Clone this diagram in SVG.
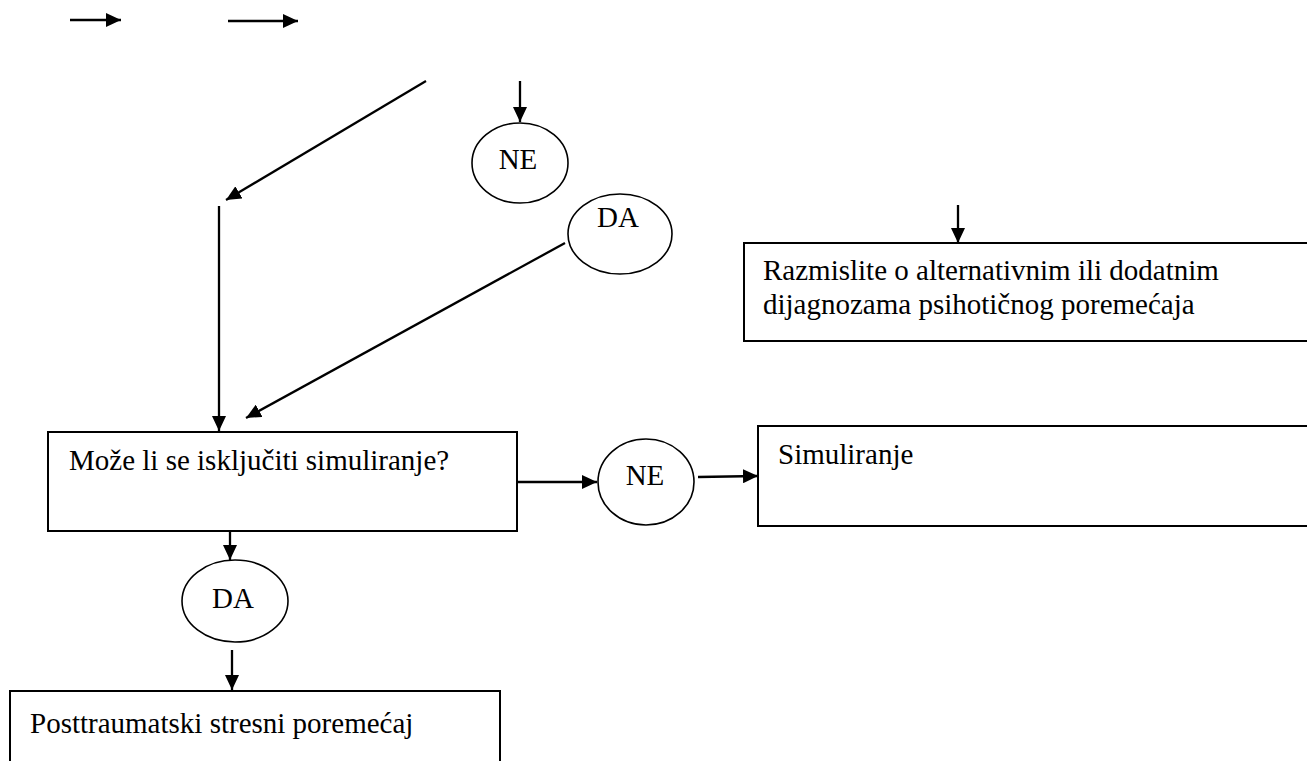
<svg xmlns="http://www.w3.org/2000/svg" width="1307" height="761" viewBox="0 0 1307 761">
<style>
.box{fill:#fff;stroke:#000;stroke-width:2}
.el{fill:#fff;stroke:#000;stroke-width:1.6}
.t{font-family:"Liberation Serif","Times New Roman",serif;font-size:29px;fill:#000}
.c{text-anchor:middle}
.ln{stroke:#000;stroke-width:2.3;fill:none;marker-end:url(#ah)}
</style>
<defs>
<marker id="ah" markerUnits="userSpaceOnUse" markerWidth="16" markerHeight="14" refX="15" refY="7" orient="auto">
<path d="M0,0 L15,7 L0,14 z" fill="#000"/>
</marker>
</defs>
<g id="connectors">
<line class="ln" x1="70" y1="20" x2="121" y2="20"/>
<line class="ln" x1="228" y1="21" x2="298" y2="21"/>
<line class="ln" x1="426" y1="81" x2="226" y2="200"/>
<line class="ln" x1="520" y1="81" x2="520" y2="122"/>
<line class="ln" x1="219" y1="206" x2="219" y2="431"/>
<line class="ln" x1="565" y1="243" x2="246" y2="418"/>
<line class="ln" x1="958" y1="205" x2="958" y2="243"/>
<line class="ln" x1="517" y1="482" x2="597" y2="482"/>
<line class="ln" x1="698" y1="477" x2="758" y2="476"/>
<line class="ln" x1="230" y1="532" x2="230" y2="560"/>
<line class="ln" x1="232" y1="650" x2="232" y2="690"/>
</g>
<g id="ne1"><ellipse class="el" cx="520" cy="163" rx="48" ry="40"/><text class="t c" x="518" y="169">NE</text></g>
<g id="da1"><ellipse class="el" cx="620" cy="234" rx="52" ry="40"/><text class="t c" x="618" y="227">DA</text></g>
<g id="razmislite"><rect class="box" x="744" y="243" width="575" height="98"/>
<text class="t" x="763" y="280">Razmislite o alternativnim ili dodatnim</text>
<text class="t" x="763" y="314">dijagnozama psihotičnog poremećaja</text></g>
<g id="moze"><rect class="box" x="48" y="432" width="469" height="99"/>
<text class="t" x="69" y="470">Može li se isključiti simuliranje?</text></g>
<g id="ne2"><ellipse class="el" cx="646" cy="482" rx="48" ry="43"/><text class="t c" x="645" y="485">NE</text></g>
<g id="simuliranje"><rect class="box" x="758" y="426" width="560" height="100"/>
<text class="t" x="778" y="464">Simuliranje</text></g>
<g id="da2"><ellipse class="el" cx="235" cy="601" rx="53" ry="41"/><text class="t c" x="233" y="608">DA</text></g>
<g id="ptsp"><rect class="box" x="10" y="691" width="490" height="100"/>
<text class="t" x="30" y="733">Posttraumatski stresni poremećaj</text></g>
</svg>
